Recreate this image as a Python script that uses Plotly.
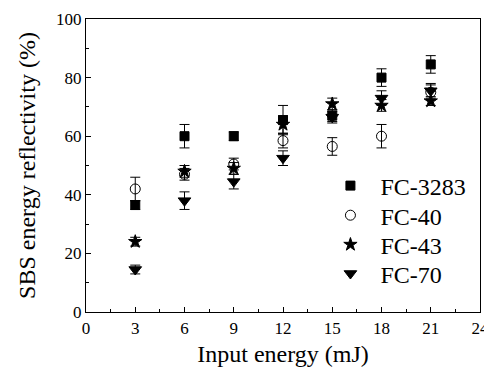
import plotly.graph_objects as go

energy = [3, 6, 9, 12, 15, 18, 21]

fc3283 = [36.5, 60, 60, 65.5, 67, 80, 84.5]
fc3283_err = [1.5, 4, 1.5, 5, 2, 3, 3]

fc40 = [42, 47, 50.5, 58.5, 56.5, 60, 75]
fc40_err = [4, 2, 2, 2.5, 3, 4, 2.5]

fc43 = [24, 48, 49, 64, 71, 70.5, 72]
fc43_err = [1.5, 2, 2, 3, 2, 2, 1.5]

fc70 = [14.5, 38, 44.5, 52.5, 66.5, 73, 75.5]
fc70_err = [1.5, 3, 2.5, 2.5, 2, 2.5, 2.5]

series = [
    ("FC-3283", fc3283, fc3283_err, "square", 9),
    ("FC-40", fc40, fc40_err, "circle-open", 10),
    ("FC-43", fc43, fc43_err, "star", 10),
    ("FC-70", fc70, fc70_err, "triangle-down", 11),
]

legend_ids = ["legend", "legend2", "legend3", "legend4"]
legend_rows = [0.430, 0.329, 0.229, 0.130]

font_family = "Times New Roman, Liberation Serif, serif"

fig = go.Figure()
for (name, y, err, sym, sz), lid in zip(series, legend_ids):
    fig.add_trace(go.Scatter(
        x=energy, y=y, name=name, mode="markers", legend=lid,
        marker=dict(symbol=sym, size=sz, color="black",
                    line=dict(color="black", width=1)),
        error_y=dict(type="data", array=err, visible=True,
                     color="black", thickness=1, width=5),
    ))

legend_style = dict(x=0.595, xanchor="left", yanchor="middle",
                    font=dict(size=24, family=font_family, color="black"),
                    bgcolor="rgba(0,0,0,0)", itemwidth=50)

fig.update_layout(
    template="none",
    width=484, height=365,
    margin=dict(l=78, r=12, t=11, b=61, autoexpand=False),
    paper_bgcolor="white", plot_bgcolor="white",
    font=dict(family=font_family, color="black", size=17),
    showlegend=True,
    **{lid: dict(y=ry, **legend_style) for lid, ry in zip(legend_ids, legend_rows)},
)

common = dict(
    ticks="inside", ticklen=5, tickwidth=1, tickcolor="black",
    showline=True, linecolor="black", linewidth=1.2, mirror=True,
    showgrid=False, zeroline=False, automargin=False,
    tickfont=dict(size=17, family=font_family, color="black"),
)

fig.update_xaxes(
    range=[0, 24], tickvals=[0, 3, 6, 9, 12, 15, 18, 21, 24],
    minor=dict(ticks="inside", dtick=1.5, tick0=0, ticklen=3, tickcolor="black", showgrid=False),
    title=dict(text="Input energy (mJ)", font=dict(size=24, family=font_family, color="black"), standoff=8),
    **common,
)
fig.update_yaxes(
    range=[0, 100], tickvals=[0, 20, 40, 60, 80, 100],
    minor=dict(ticks="inside", dtick=10, tick0=0, ticklen=3, tickcolor="black", showgrid=False),
    title=dict(text="SBS energy reflectivity (%)", font=dict(size=24, family=font_family, color="black"), standoff=13),
    **common,
)

fig.write_html("out.html")
